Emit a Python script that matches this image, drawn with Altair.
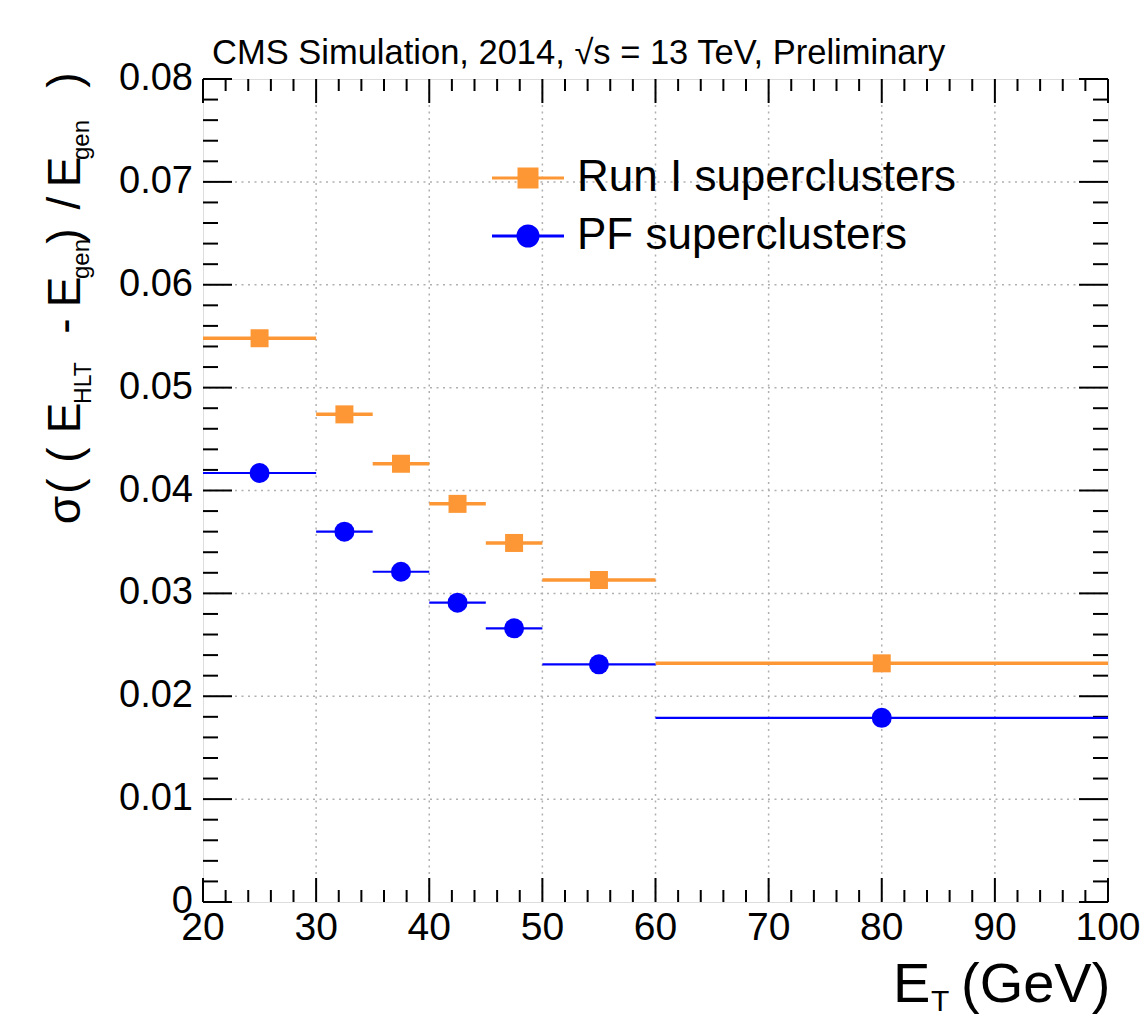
import altair as alt
import pandas as pd

# ---------------- data ----------------
x_low = [20, 30, 35, 40, 45, 50, 60]
x_high = [30, 35, 40, 45, 50, 60, 100]
x_mid = [25, 32.5, 37.5, 42.5, 47.5, 55, 80]
run1_res = [0.0548, 0.0474, 0.0426, 0.0387, 0.0349, 0.0313, 0.0232]
pf_res = [0.0417, 0.0360, 0.0321, 0.0291, 0.0266, 0.0231, 0.0179]
series_names = ["Run I superclusters", "PF superclusters"]
series_colors = ["#fd9735", "#0000ff"]

x_major = [20, 30, 40, 50, 60, 70, 80, 90, 100]
x_labels = ["20", "30", "40", "50", "60", "70", "80", "90", "100"]
y_major = [0, 0.01, 0.02, 0.03, 0.04, 0.05, 0.06, 0.07, 0.08]
y_labels = ["0", "0.01", "0.02", "0.03", "0.04", "0.05", "0.06", "0.07", "0.08"]
x_grid = [30, 40, 50, 60, 70, 80, 90]
y_grid = [0.01, 0.02, 0.03, 0.04, 0.05, 0.06, 0.07]
x_minor = [v for v in range(22, 100, 2) if v % 10 != 0]
y_minor = [round(k * 0.002, 3) for k in range(1, 40) if k % 5 != 0]

title_text = "CMS Simulation, 2014, \u221As = 13 TeV, Preliminary"

# ---------------- layout ----------------
W, H = 905, 823
OX, OY = 203, 79
FONT = "Liberation Sans"
xs = alt.Scale(domain=[20, 100], nice=False, zero=False)
ys = alt.Scale(domain=[0, 0.08], nice=False, zero=False)

run1 = pd.DataFrame({"lo": x_low, "hi": x_high, "mid": x_mid, "val": run1_res,
                     "series": series_names[0]})
pf = pd.DataFrame({"lo": x_low, "hi": x_high, "mid": x_mid, "val": pf_res,
                   "series": series_names[1]})
both = pd.concat([run1, pf])

grid_style = dict(color="#b0b0b0", strokeDash=[2, 4.5], strokeWidth=1.5)
grid_x = alt.Chart(pd.DataFrame({"v": x_grid})).mark_rule(**grid_style).encode(
    x=alt.X("v:Q", scale=xs, axis=None))
grid_y = alt.Chart(pd.DataFrame({"v": y_grid})).mark_rule(**grid_style).encode(
    y=alt.Y("v:Q", scale=ys, axis=None))

# tick labels (through the scales)
xlab = alt.Chart(pd.DataFrame({"v": x_major, "t": x_labels})).mark_text(
    align="center", baseline="top", fontSize=39, font=FONT, color="black").encode(
    x=alt.X("v:Q", scale=xs, axis=None), y=alt.value(H + 7), text="t:N")
ylab = alt.Chart(pd.DataFrame({"v": y_major, "t": y_labels})).mark_text(
    align="right", baseline="middle", fontSize=38, font=FONT, color="black").encode(
    y=alt.Y("v:Q", scale=ys, axis=None), x=alt.value(-10), text="t:N")


def xticks(vals, length):
    d = pd.DataFrame({"v": vals})
    base = alt.Chart(d).mark_rule(color="black", strokeWidth=2)
    bot = base.encode(x=alt.X("v:Q", scale=xs, axis=None), y=alt.value(H), y2=alt.value(H - length))
    top = base.encode(x=alt.X("v:Q", scale=xs, axis=None), y=alt.value(0), y2=alt.value(length))
    return [bot, top]


def yticks(vals, length):
    d = pd.DataFrame({"v": vals})
    base = alt.Chart(d).mark_rule(color="black", strokeWidth=2)
    left = base.encode(y=alt.Y("v:Q", scale=ys, axis=None), x=alt.value(0), x2=alt.value(length))
    right = base.encode(y=alt.Y("v:Q", scale=ys, axis=None), x=alt.value(W), x2=alt.value(W - length))
    return [left, right]


tick_layers = xticks(x_major, 24) + xticks(x_minor, 12) + yticks(y_major, 29) + yticks(y_minor, 15)

bars_run1 = alt.Chart(run1).mark_rule(color=series_colors[0], strokeWidth=3.5).encode(
    x=alt.X("lo:Q", scale=xs, axis=None), x2="hi:Q", y=alt.Y("val:Q", scale=ys, axis=None))
bars_pf = alt.Chart(pf).mark_rule(color=series_colors[1], strokeWidth=2.2).encode(
    x=alt.X("lo:Q", scale=xs, axis=None), x2="hi:Q", y=alt.Y("val:Q", scale=ys, axis=None))
pts_run1 = alt.Chart(run1).mark_point(shape="square", filled=True, size=324, opacity=1,
                                      color=series_colors[0]).encode(
    x=alt.X("mid:Q", scale=xs, axis=None), y=alt.Y("val:Q", scale=ys, axis=None))
pts_pf = alt.Chart(pf).mark_point(shape="circle", filled=True, size=400, opacity=1,
                                  color=series_colors[1]).encode(
    x=alt.X("mid:Q", scale=xs, axis=None), y=alt.Y("val:Q", scale=ys, axis=None))

# legend (library legend, custom symbol = line + marker)
sym_square = "M-1.8,0H1.8M-0.45,-0.45H0.45V0.45H-0.45Z"
sym_circle = "M-1.8,0H1.8M0.5,0A0.5,0.5,0,1,1,-0.5,0A0.5,0.5,0,1,1,0.5,0Z"
leg = alt.Legend(title=None, orient="none", legendX=303, legendY=77, padding=0,
                 labelFontSize=44, labelFont=FONT, labelColor="black", labelLimit=800,
                 symbolSize=1600, symbolStrokeWidth=3, symbolOpacity=1,
                 labelOffset=27, rowPadding=14)
legend_layer = alt.Chart(both).mark_point(filled=True, opacity=0).encode(
    x=alt.X("mid:Q", scale=xs, axis=None), y=alt.Y("val:Q", scale=ys, axis=None),
    color=alt.Color("series:N", scale=alt.Scale(domain=series_names, range=series_colors), legend=leg),
    stroke=alt.Stroke("series:N", scale=alt.Scale(domain=series_names, range=series_colors), legend=leg),
    shape=alt.Shape("series:N", scale=alt.Scale(domain=series_names, range=[sym_square, sym_circle]), legend=leg),
)

# titles with sub-scripts (pixel positions relative to plot origin)
text_layers = [
    alt.Chart(pd.DataFrame({"t": [title_text]})).mark_text(
        align="left", baseline="alphabetic", fontSize=34.5, font=FONT, color="black"
    ).encode(text="t:N", x=alt.value(212 - OX), y=alt.value(64 - OY))
]
ytitle_pieces = [
    ("\u03c3", 510, 46, 80), ("(", 486, 46, 80), ("(", 455, 46, 80), ("E", 418, 46, 80),
    ("HLT", 383, 23, 91), ("-", 326, 46, 80), ("E", 292, 46, 80), ("gen", 259, 24, 89),
    (")", 236, 46, 80), ("/", 203, 46, 80), ("E", 172, 46, 80), ("gen", 140, 24, 89),
    (")", 80, 46, 80),
]
for txt, ypos, fs, xbase in ytitle_pieces:
    text_layers.append(
        alt.Chart(pd.DataFrame({"t": [txt]})).mark_text(
            angle=270, align="center", baseline="alphabetic", fontSize=fs, font=FONT, color="black"
        ).encode(text="t:N", x=alt.value(xbase - OX), y=alt.value(ypos - OY))
    )
xtitle_pieces = [("E", 893, 1002, 56), ("T", 931, 1011, 30), ("(GeV)", 961, 1002, 56)]
for txt, xpos, ypos, fs in xtitle_pieces:
    text_layers.append(
        alt.Chart(pd.DataFrame({"t": [txt]})).mark_text(
            align="left", baseline="alphabetic", fontSize=fs, font=FONT, color="black"
        ).encode(text="t:N", x=alt.value(xpos - OX), y=alt.value(ypos - OY))
    )

chart = alt.layer(
    grid_x, grid_y, *tick_layers, xlab, ylab, bars_run1, bars_pf, pts_run1, pts_pf,
    legend_layer, *text_layers
).properties(
    width=W, height=H,
    autosize=alt.AutoSizeParams(type="none"),
    padding={"left": OX, "top": OY, "right": 1145 - OX - W, "bottom": 1016 - OY - H},
).configure_view(stroke="black", strokeWidth=2).configure(background="white")

chart.save("out.html", embed_options={"renderer": "svg", "actions": False})
